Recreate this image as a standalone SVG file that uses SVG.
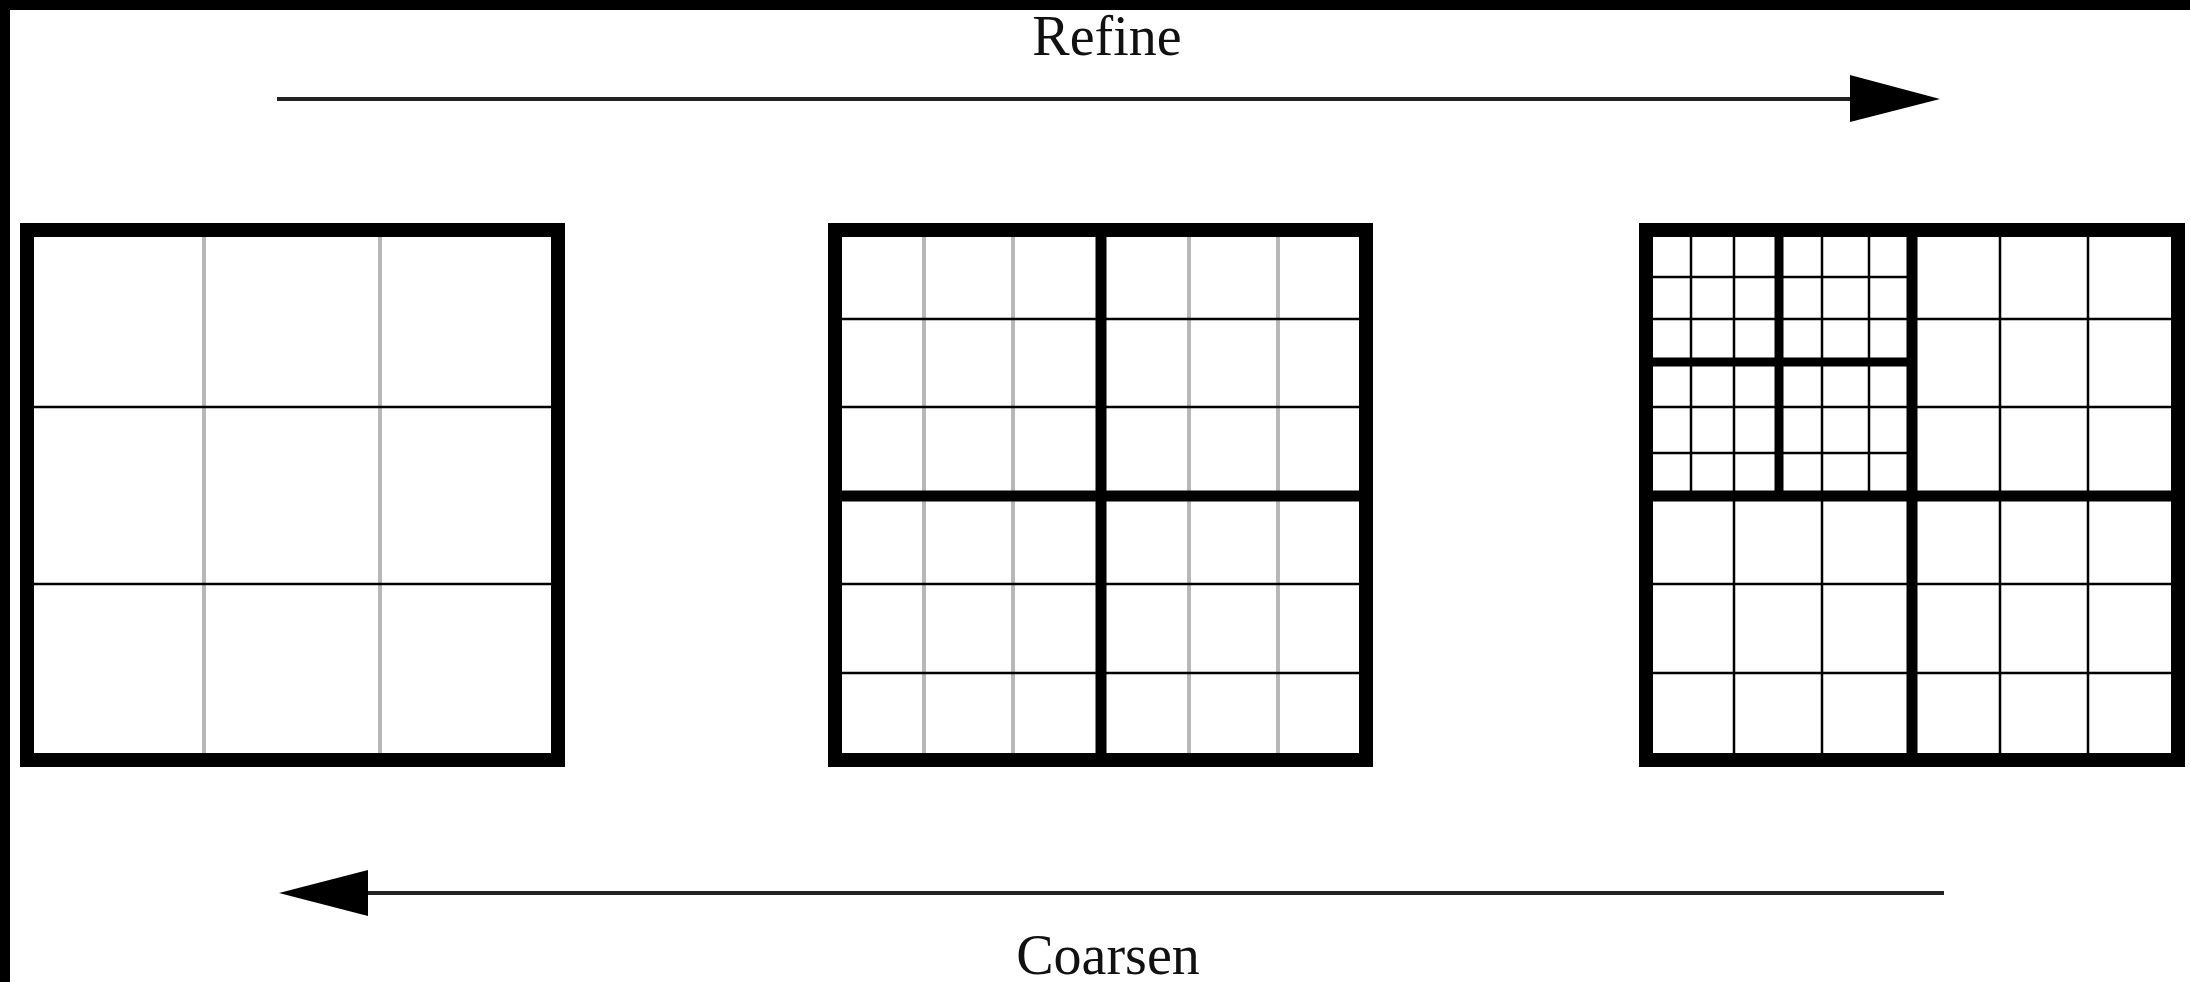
<svg xmlns="http://www.w3.org/2000/svg" width="2190" height="982" viewBox="0 0 2190 982">
<defs>
<style>
.outer{fill:none;stroke:#000;stroke-width:14}
.mid{stroke:#000;stroke-width:11}
.inner{stroke:#000;stroke-width:9}
.thin{stroke:#000;stroke-width:2.5}
.gray{stroke:#b8b8b8;stroke-width:4}
.lbl{font-family:"Liberation Serif",serif;font-size:56px;fill:#111;text-anchor:middle}
.conn{stroke:#222;stroke-width:4;fill:none}
.head{fill:#000}
</style>
</defs>
<rect x="0" y="0" width="2190" height="982" fill="#fff"/>
<rect x="0" y="0" width="2190" height="10" fill="#000"/>
<rect x="0" y="0" width="10" height="982" fill="#000"/>

<g id="grid-coarse">
<line class="gray" x1="204" y1="230" x2="204" y2="760"/>
<line class="gray" x1="380" y1="230" x2="380" y2="760"/>
<line class="thin" x1="27" y1="407" x2="558" y2="407"/>
<line class="thin" x1="27" y1="584" x2="558" y2="584"/>
<rect class="outer" x="27" y="230" width="531" height="530"/>
</g>

<g id="grid-medium">
<line class="gray" x1="924" y1="230" x2="924" y2="760"/>
<line class="gray" x1="1013" y1="230" x2="1013" y2="760"/>
<line class="gray" x1="1189" y1="230" x2="1189" y2="760"/>
<line class="gray" x1="1278" y1="230" x2="1278" y2="760"/>
<line class="thin" x1="835" y1="319" x2="1366" y2="319"/>
<line class="thin" x1="835" y1="407" x2="1366" y2="407"/>
<line class="thin" x1="835" y1="584" x2="1366" y2="584"/>
<line class="thin" x1="835" y1="673" x2="1366" y2="673"/>
<line class="mid" x1="1101" y1="230" x2="1101" y2="760"/>
<line class="mid" x1="835" y1="496" x2="1366" y2="496"/>
<rect class="outer" x="835" y="230" width="531" height="530"/>
</g>

<g id="grid-fine">
<line class="thin" x1="1691" y1="230" x2="1691" y2="496"/>
<line class="thin" x1="1734" y1="230" x2="1734" y2="496"/>
<line class="thin" x1="1822" y1="230" x2="1822" y2="496"/>
<line class="thin" x1="1869" y1="230" x2="1869" y2="496"/>
<line class="thin" x1="1646" y1="277" x2="1912" y2="277"/>
<line class="thin" x1="1646" y1="319" x2="1912" y2="319"/>
<line class="thin" x1="1646" y1="407" x2="1912" y2="407"/>
<line class="thin" x1="1646" y1="453" x2="1912" y2="453"/>
<line class="inner" x1="1779" y1="230" x2="1779" y2="496"/>
<line class="inner" x1="1646" y1="362" x2="1912" y2="362"/>
<line class="thin" x1="2000" y1="230" x2="2000" y2="496"/>
<line class="thin" x1="2088" y1="230" x2="2088" y2="496"/>
<line class="thin" x1="1912" y1="319" x2="2178" y2="319"/>
<line class="thin" x1="1912" y1="407" x2="2178" y2="407"/>
<line class="thin" x1="1734" y1="496" x2="1734" y2="760"/>
<line class="thin" x1="1822" y1="496" x2="1822" y2="760"/>
<line class="thin" x1="2000" y1="496" x2="2000" y2="760"/>
<line class="thin" x1="2088" y1="496" x2="2088" y2="760"/>
<line class="thin" x1="1646" y1="584" x2="2178" y2="584"/>
<line class="thin" x1="1646" y1="673" x2="2178" y2="673"/>
<line class="mid" x1="1912" y1="230" x2="1912" y2="760"/>
<line class="mid" x1="1646" y1="496" x2="2178" y2="496"/>
<rect class="outer" x="1646" y="230" width="532" height="530"/>
</g>

<g id="connectors">
<g id="refine-arrow">
<line class="conn" x1="277" y1="99" x2="1852" y2="99"/>
<polygon class="head" points="1850,75 1940,99 1850,122"/>
</g>
<g id="coarsen-arrow">
<line class="conn" x1="366" y1="893" x2="1944" y2="893"/>
<polygon class="head" points="368,870 279,893 368,916"/>
</g>
</g>

<g id="labels">
<text class="lbl" x="1107" y="55">Refine</text>
<text class="lbl" x="1108" y="974">Coarsen</text>
</g>
</svg>
